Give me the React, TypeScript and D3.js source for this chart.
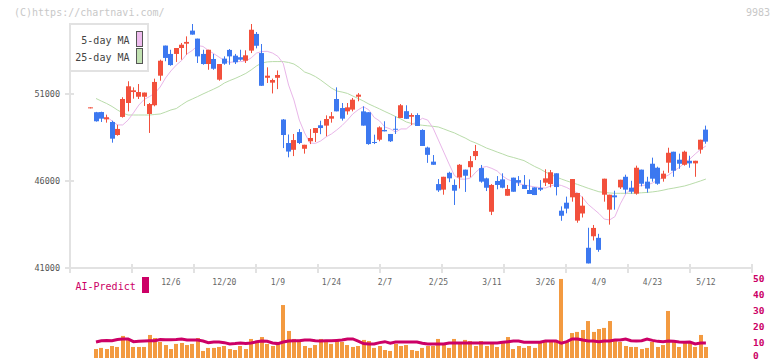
import React from 'react'
import * as d3 from 'd3'

const W = 772
const H = 361

// candles (index 0 = oldest)
const opens = [
  50250, 49970, 49980, 49560, 49410, 48660, 49700, 50500, 51130, 50860,
  50860, 49870, 50370, 52070, 53800, 53320, 53320, 53660, 53910, 54660,
  54200, 53320, 52740, 53030, 51840, 53050, 53550, 53220, 53130, 52930,
  53510, 54470, 53370, 51950, 51670, 51950, 49550, 48200, 47810, 48830,
  47870, 48300, 48780, 49220, 49200, 49600, 50730, 50210, 50020, 50120,
  50860, 50020, 49970, 48260, 48390, 48950, 48720, 49020, 49640, 50030,
  49710, 49810, 48950, 47940, 47130, 45840, 45520, 46490, 45790, 46220,
  46670, 46810, 47450, 46760, 46170, 44250, 46020, 46110, 45170, 46210,
  46070, 45790, 45500, 45650, 45620, 45920, 45840, 46460, 44310, 44770,
  45080, 43740, 44150, 42180, 42840, 42750, 45230, 44370, 45190, 45650,
  46260, 45630, 45290, 46670, 45980, 47010, 46780, 46150, 47070, 47700,
  47240, 46950, 47180, 47030, 47820, 48970,
]
const highs = [
  50250, 49990, 50000, 49830, 49480, 49250, 50830, 51750, 51400, 51590,
  51100, 50500, 51900, 52990, 53800, 53560, 53660, 53950, 54330, 55040,
  54200, 53560, 53560, 53320, 52740, 53180, 53600, 53320, 53560, 53530,
  55040, 54580, 53890, 52550, 51900, 52370, 49580, 48690, 48720, 49000,
  48100, 49000, 49060, 49480, 49790, 49980, 51400, 50500, 50500, 50790,
  51070, 50310, 49970, 48680, 49160, 49450, 48720, 49730, 50440, 50370,
  49910, 49910, 48990, 47990, 47510, 46130, 46260, 46550, 46110, 46990,
  46670, 47450, 48090, 46940, 46210, 45840, 46300, 46460, 45790, 46210,
  46300, 46360, 46110, 45650, 46070, 46690, 46650, 46460, 44560, 45120,
  46130, 45330, 45120, 43330, 43490, 42980, 46150, 45230, 45460, 46090,
  46380, 46030, 46900, 46670, 46260, 47360, 46840, 46610, 47930, 47700,
  47590, 47760, 47470, 47180, 48390, 49200,
]
const lows = [
  50250, 49430, 49410, 49370, 48220, 48620, 49660, 50020, 50750, 50730,
  50330, 48780, 50310, 51780, 52900, 52640, 52860, 52990, 53280, 54430,
  52800, 52700, 52410, 52410, 51780, 52700, 52700, 52740, 52930, 52800,
  53370, 53640, 51480, 51650, 51050, 51300, 47910, 47380, 47450, 48140,
  47590, 48140, 48260, 48710, 48590, 49370, 50020, 49490, 49830, 50020,
  50600, 49200, 48100, 48140, 48300, 48870, 48260, 48720, 49640, 49590,
  49230, 49180, 48030, 47060, 46950, 45390, 45230, 45950, 44640, 45590,
  45390, 46230, 47220, 45920, 45440, 44060, 45540, 45600, 45170, 45400,
  45730, 45560, 45270, 45210, 45440, 45730, 45650, 45190, 43730, 44160,
  44830, 43620, 43920, 41280, 42600, 41950, 44830, 43510, 44370, 45560,
  45290, 45290, 45230, 45710, 45350, 45980, 45800, 45980, 46490, 46260,
  46720, 46900, 46780, 46260, 47590, 48160,
]
const closes = [
  50250, 49450, 49600, 49680, 48450, 49010, 50730, 51460, 51230, 51130,
  51100, 50440, 51710, 52930, 53090, 52680, 53660, 53850, 54010, 54430,
  53180, 52740, 53560, 52470, 52740, 52760, 53180, 52840, 52990, 53240,
  54710, 53790, 51490, 52070, 51820, 52110, 48660, 47710, 48370, 48200,
  48100, 48490, 49060, 49060, 49580, 49740, 50020, 49600, 50250, 50690,
  50980, 49200, 48140, 48220, 49100, 48870, 48300, 48990, 50370, 49590,
  49810, 49180, 48030, 47520, 46950, 45480, 46260, 46170, 45460, 46950,
  46320, 47160, 47740, 45980, 45630, 45790, 45790, 45630, 45560, 45400,
  45920, 45560, 45270, 45210, 45520, 46170, 46520, 45670, 44020, 44430,
  46130, 45330, 44600, 41280, 43320, 42060, 46150, 45230, 45080, 46090,
  45520, 45400, 46780, 45860, 45580, 46150, 45860, 46440, 47640, 46610,
  47010, 47700, 47030, 47180, 48390, 48280,
]

const ma5 = [
  null, null, null, 49710, 49470, 49240, 49240, 49520, 49930, 50380,
  50700, 50870, 51070, 51420, 51940, 52340, 52680, 52940, 53320, 53520,
  53800, 53750, 53520, 53340, 53140, 52940, 52830, 52880, 52880, 52910,
  53090, 53370, 53460, 53470, 53370, 53180, 52770, 51530, 50670, 49520,
  48780, 48200, 48180, 48320, 48550, 48720, 48950, 49210, 49520, 49870,
  50110, 50290, 50100, 49670, 49470, 49120, 49010, 48830, 49010, 49010,
  49260, 49410, 49620, 49520, 49060, 48370, 47680, 46990, 46330, 46130,
  46120, 46190, 46530, 46790, 46850, 46740, 46590, 46300, 46100, 45990,
  45870, 45790, 45730, 45680, 45640, 45610, 45730, 45820, 45760, 45640,
  45470, 45330, 45040, 44670, 44410, 44150, 43830, 43780, 43970, 44700,
  45270, 45560, 45700, 45760, 45790, 45900, 46070, 46220, 46360, 46590,
  46790, 47050, 47280, 47570, 47830, 48030,
]
const ma25 = [
  null, 50760, 50610, 50470, 50300, 50100, 49920, 49810, 49810, 49810,
  49810, 49810, 49840, 49870, 49980, 50100, 50180, 50390, 50590, 50730,
  50870, 51020, 51160, 51300, 51450, 51650, 51790, 51910, 52050, 52200,
  52400, 52630, 52800, 52860, 52880, 52880, 52880, 52830, 52740, 52540,
  52280, 52170, 52020, 51820, 51590, 51360, 51190, 51130, 51050, 50900,
  50760, 50610, 50440, 50300, 50160, 50010, 49870, 49720, 49580, 49410,
  49320, 49260, 49220, 49190, 49160, 49120, 49010, 48890, 48780, 48630,
  48490, 48320, 48200, 48060, 47910, 47800, 47680, 47570, 47450, 47370,
  47280, 47190, 47020, 46850, 46710, 46530, 46390, 46250, 46130, 46020,
  45920, 45820, 45710, 45600, 45500, 45400, 45360, 45330, 45310, 45310,
  45310, 45310, 45320, 45340, 45360, 45390, 45430, 45490, 45560, 45610,
  45670, 45730, 45820, 45920, 46020, 46130,
]

const volume = [
  null, 5.6, 6.3, 5.6, 7.5, 6.9, 13.8, 11.3, 6.9, 6.9,
  6.9, 14.4, 12.5, 10, 8.1, 5.6, 8.8, 9.4, 8.1, 8.8,
  12.5, 4.4, 6.3, 6.3, 6.9, 7.5, 5.6, 5, 7.5, 5.6,
  11.9, 10, 13.1, 8.8, 7.5, 10, 33.1, 16.9, 11.9, 11.3,
  7.5, 6.3, 8.1, 11.9, 10, 8.8, 11.3, 10, 8.1, 6.9,
  7.5, 11.3, 10.6, 6.3, 7.5, 5, 4.4, 8.8, 7.5, 8.1,
  5, 4.4, 6.3, 7.5, 7.5, 11.9, 8.8, 6.3, 11.9, 8.8,
  11.3, 10.6, 7.5, 10.6, 7.5, 8.8, 6.9, 10, 13.1, 5.6,
  7.5, 6.3, 7.5, 6.3, 10, 10, 10, 10, 49.4, 10,
  15.6, 16.3, 17.5, 23.1, 16.3, 18.1, 18.8, 23.1, 11.3, 10,
  7.5, 6.9, 6.9, 5.6, 6.3, 10, 6.9, 8.1, 29.4, 10,
  6.9, 10, 10, 6.9, 14.4, 6.9,
]
const aiPredict = [
  null, 10, 10.8, 11, 10.8, 11.6, 11.9, 11.9, 10.2, 10.4,
  10.6, 10.8, 10.8, 11.6, 11.4, 11.4, 11.6, 11.9, 11.2, 11.2,
  11.2, 10.6, 9.6, 10, 10, 9.6, 8.8, 9, 9.3, 9,
  9.4, 10.1, 10.6, 10.4, 9.4, 9, 10, 10.6, 10.8, 10.8,
  11.2, 11.2, 10.8, 10.6, 10.8, 10.8, 11, 11.2, 11.9, 11.9,
  10.6, 9, 8.8, 8.8, 9.6, 10.2, 9.2, 10, 10, 10,
  10, 10, 9.2, 8.8, 8.8, 8.8, 8.8, 9.4, 9.4, 9.4,
  9.4, 9.4, 9.4, 9.4, 9.4, 9.4, 9.4, 9.8, 10.2, 10.6,
  10.6, 9.8, 9.8, 9.8, 9.8, 10.6, 10.6, 10.6, 9.2, 10.2,
  11.9, 11.9, 11.2, 10.6, 10.6, 10.2, 10.6, 10.6, 11.2, 11.2,
  11.9, 10.8, 10.6, 10.8, 11.9, 11, 10.4, 10.2, 10.6, 10.4,
  10, 9.8, 10, 8.8, 9.4, 9.4,
]

const dateTickIndex = [15, 25, 35, 45, 55, 65, 75, 85, 95, 105, 115]
const dateTickLabels = ['12/6', '12/20', '1/9', '1/24', '2/7', '2/25', '3/11', '3/26', '4/9', '4/23', '5/12']
const priceTicks = [41000, 46000, 51000]
const volTicks = [0, 10, 20, 30, 40, 50]

const RED = '#f2503c'
const BLUE = '#3c78f0'
const AXIS = '#e2e2e2'
const CRIMSON = '#cc0066'
const FONT = '"DejaVu Sans Mono", monospace'

export default function App() {
  const n = opens.length
  const x = d3.scaleLinear().domain([0, n - 1]).range([90.65, 705.9])
  const y = d3.scaleLinear().domain([41000, 51000]).range([268.3, 94.3])
  const yv = d3.scaleLinear().domain([0, 50]).range([358, 278])

  const maLine = d3
    .line<number | null>()
    .defined((d) => d != null)
    .x((_, i) => x(i))
    .y((d) => y(d as number))

  const aiLine = d3
    .line<number | null>()
    .defined((d) => d != null)
    .x((_, i) => x(i))
    .y((d) => yv(d as number))

  // fixed grid ticks on the date axis
  const gridX = d3.range(70, 753, 62)

  return (
    <svg
      width={W}
      height={H}
      style={{ position: 'absolute', left: 0, top: 0, background: '#fff' }}
      fontFamily={FONT}
    >
      <text x={14} y={16} fontSize={10} fill="#c8c8c8">(C)https://chartnavi.com/</text>
      <text x={770} y={16} fontSize={10} fill="#c8c8c8" textAnchor="end">9983</text>

      {/* axes */}
      <rect x={69} y={24} width={2} height={245} fill={AXIS} />
      <rect x={70} y={267} width={683} height={2} fill={AXIS} />
      {gridX.map((gx) => (
        <rect key={gx} x={gx - 1} y={264} width={2} height={9} fill={AXIS} />
      ))}
      {priceTicks.map((p) => (
        <g key={p}>
          <rect x={65} y={Math.round(y(p)) - 1} width={9} height={2} fill={AXIS} />
          <text x={60} y={y(p) + 3} fontSize={8.5} fill="#555" textAnchor="end">{p}</text>
        </g>
      ))}
      {dateTickIndex.map((di, k) => (
        <text key={di} x={x(di)} y={285} fontSize={8} fill="#666" textAnchor="middle">
          {dateTickLabels[k]}
        </text>
      ))}

      {/* moving averages */}
      <path d={maLine(ma25) || ''} fill="none" stroke="#b9dcaa" strokeWidth={1} />
      <path d={maLine(ma5) || ''} fill="none" stroke="#e9b6e9" strokeWidth={1} />

      {/* candles */}
      {opens.map((o, i) => {
        const c = closes[i]
        const col = c >= o ? RED : BLUE
        const bx = Math.round(x(i) - 2.5)
        const top = y(Math.max(o, c))
        const bh = Math.max(1, Math.abs(y(o) - y(c)))
        return (
          <g key={i}>
            <rect x={bx + 2} y={y(highs[i])} width={1} height={Math.max(1, y(lows[i]) - y(highs[i]))} fill={col} />
            <rect x={bx} y={top} width={5} height={bh} fill={col} />
          </g>
        )
      })}

      {/* legend */}
      <rect x={70} y={24} width={78} height={47} fill="#fff" stroke={AXIS} strokeWidth={2} />
      <text x={129.5} y={44} fontSize={10} fill="#444" textAnchor="end">5-day MA</text>
      <text x={129.5} y={60.5} fontSize={10} fill="#444" textAnchor="end">25-day MA</text>
      <rect x={136.5} y={31.5} width={6} height={15} fill="#eebcee" stroke="#555" strokeWidth={1} />
      <rect x={136.5} y={48.5} width={6} height={15} fill="#c2e2b2" stroke="#555" strokeWidth={1} />

      {/* AI-Predict panel */}
      <text x={75.5} y={290} fontSize={10} fill={CRIMSON}>AI-Predict</text>
      <rect x={142} y={277} width={7} height={16} fill={CRIMSON} />
      {volume.map((v, i) =>
        v == null ? null : (
          <rect key={i} x={Math.round(x(i) - 2)} y={yv(v)} width={4} height={yv(0) - yv(v)} fill="#f39a40" />
        )
      )}
      <path d={aiLine(aiPredict) || ''} fill="none" stroke={CRIMSON} strokeWidth={3} />
      {volTicks.map((t) => (
        <text key={t} x={753} y={Math.min(yv(t) + 3.5, 358.5)} fontSize={9.5} fontWeight="bold" fill={CRIMSON}>{t}</text>
      ))}
    </svg>
  )
}
